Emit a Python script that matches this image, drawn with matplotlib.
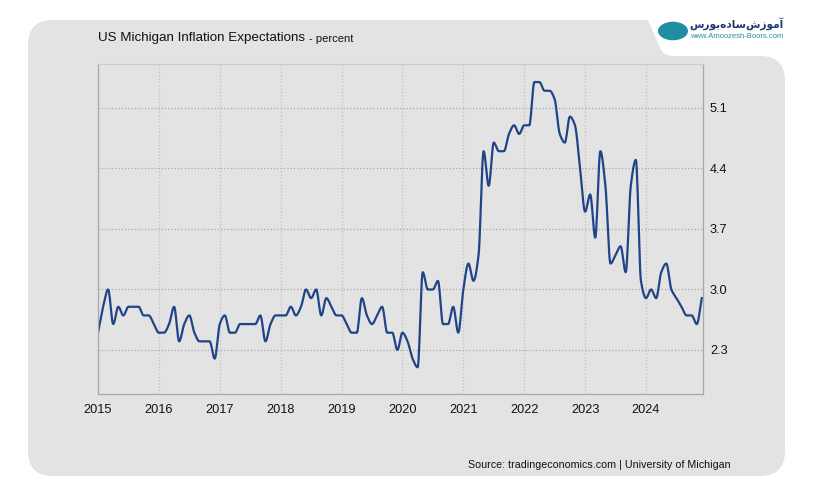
import numpy as np
import matplotlib.pyplot as plt
from matplotlib.path import Path
from matplotlib.patches import PathPatch, Circle

# monthly values, Jan 2015 .. Dec 2024
y2015 = [2.5, 2.8, 3.0, 2.6, 2.8, 2.7, 2.8, 2.8, 2.8, 2.7, 2.7, 2.6]
y2016 = [2.5, 2.5, 2.6, 2.8, 2.4, 2.6, 2.7, 2.5, 2.4, 2.4, 2.4, 2.2]
y2017 = [2.6, 2.7, 2.5, 2.5, 2.6, 2.6, 2.6, 2.6, 2.7, 2.4, 2.6, 2.7]
y2018 = [2.7, 2.7, 2.8, 2.7, 2.8, 3.0, 2.9, 3.0, 2.7, 2.9, 2.8, 2.7]
y2019 = [2.7, 2.6, 2.5, 2.5, 2.9, 2.7, 2.6, 2.7, 2.8, 2.5, 2.5, 2.3]
y2020 = [2.5, 2.4, 2.2, 2.1, 3.2, 3.0, 3.0, 3.1, 2.6, 2.6, 2.8, 2.5]
y2021 = [3.0, 3.3, 3.1, 3.4, 4.6, 4.2, 4.7, 4.6, 4.6, 4.8, 4.9, 4.8]
y2022 = [4.9, 4.9, 5.4, 5.4, 5.3, 5.3, 5.2, 4.8, 4.7, 5.0, 4.9, 4.4]
y2023 = [3.9, 4.1, 3.6, 4.6, 4.2, 3.3, 3.4, 3.5, 3.2, 4.2, 4.5, 3.1]
y2024 = [2.9, 3.0, 2.9, 3.2, 3.3, 3.0, 2.9, 2.8, 2.7, 2.7, 2.6, 2.9]

values = np.array(y2015 + y2016 + y2017 + y2018 + y2019 +
                  y2020 + y2021 + y2022 + y2023 + y2024)
years = list(range(2015, 2025))
yticks = [2.3, 3.0, 3.7, 4.4, 5.1]

W, H = 815, 504


def pchip(y, n=12):
    # monotone cubic through the monthly points (unit spacing)
    d = np.diff(y)
    m = np.zeros(len(y))
    m[0], m[-1] = d[0], d[-1]
    for k in range(1, len(y) - 1):
        if d[k - 1] * d[k] > 0:
            m[k] = 2.0 / (1.0 / d[k - 1] + 1.0 / d[k])
    t = np.linspace(0, 1, n, endpoint=False)
    h00 = 2 * t**3 - 3 * t**2 + 1
    h10 = t**3 - 2 * t**2 + t
    h01 = -2 * t**3 + 3 * t**2
    h11 = t**3 - t**2
    xs, ys = [], []
    for k in range(len(y) - 1):
        xs.append(k + t)
        ys.append(h00 * y[k] + h10 * m[k] + h01 * y[k + 1] + h11 * m[k + 1])
    xs.append([len(y) - 1])
    ys.append([y[-1]])
    return np.concatenate(xs), np.concatenate(ys)


def fx(x):
    return x / W


def fy(y):
    return 1 - y / H


fig = plt.figure(figsize=(W / 100, H / 100), dpi=100)
fig.patch.set_facecolor('white')

# gray panel with the notch for the logo
pts = [(53, 20), (648, 20), (661, 50), (665, 56), (675, 56), (760, 56),
       (785, 56), (785, 81), (785, 451), (785, 476), (760, 476), (53, 476),
       (28, 476), (28, 451), (28, 45), (28, 20), (53, 20)]
codes = [Path.MOVETO, Path.LINETO, Path.LINETO, Path.CURVE3, Path.CURVE3,
         Path.LINETO, Path.CURVE3, Path.CURVE3, Path.LINETO, Path.CURVE3,
         Path.CURVE3, Path.LINETO, Path.CURVE3, Path.CURVE3, Path.LINETO,
         Path.CURVE3, Path.CURVE3]
panel = Path([(fx(a), fy(b)) for a, b in pts], codes)
fig.patches.append(PathPatch(panel, transform=fig.transFigure,
                             facecolor='#e3e3e3', edgecolor='none', zorder=-5))

ax = fig.add_axes([fx(98), fy(394), fx(703) - fx(98), (394 - 64) / H])
ax.set_facecolor('none')
ax.set_zorder(2)

xs, ys = pchip(values)
ax.plot(2015 + xs / 12, ys, color='#1f4488', lw=1.6, solid_joinstyle='round')

ax.set_xlim(2015, 2015 + 605 / 60.89)
ax.set_ylim(2.3 - 44 * 0.7 / 60.5, 2.3 + 286 * 0.7 / 60.5)
ax.set_xticks(years)
ax.set_xticklabels([str(y) for y in years])
ax.set_yticks(yticks)
ax.set_yticklabels([f'{v:.1f}' for v in yticks])
ax.yaxis.tick_right()
ax.tick_params(axis='both', length=0, labelsize=9.2, colors='#111111',
               labelfontfamily='Liberation Sans')
ax.tick_params(axis='x', pad=7)
ax.tick_params(axis='y', pad=5)
ax.grid(axis='y', linestyle=':', color='#a8a8a8', lw=0.9)
ax.grid(axis='x', linestyle=':', color='#c0c0c0', lw=0.9)
for s in ['left', 'bottom', 'right']:
    ax.spines[s].set_color('#a8a8a8')
    ax.spines[s].set_linewidth(0.9)
ax.spines['top'].set_color('#cccccc')
ax.spines['top'].set_linewidth(0.8)

fig.text(fx(98), fy(38), 'US Michigan Inflation Expectations', fontsize=9.6,
         family='Liberation Sans', color='#111111', va='center')
fig.text(fx(309), fy(39), '- percent', fontsize=8.0,
         family='Liberation Sans', color='#111111', va='center')
fig.text(fx(731), fy(465), 'Source: tradingeconomics.com | University of Michigan',
         fontsize=7.7, family='Liberation Sans', color='#111111',
         ha='right', va='center')

# logo
fig.patches.append(Circle((fx(673), fy(31)), 15 / W, transform=fig.transFigure,
                          facecolor='#1f8ea3', edgecolor='none'))
logo_fa = '\ufeb1\ufead\ufeee\ufe91\ufee9\ufea9\ufe8e\ufeb3\ufeb5\ufeaf\ufeee\ufee3\ufe81'
fig.text(fx(783), fy(24), logo_fa, fontsize=7.6, family='DejaVu Sans',
         color='#1d3a6e', ha='right', va='center', fontweight='bold')
fig.text(fx(783), fy(37), 'www.Amoozesh-Boors.com', fontsize=5.5,
         family='Liberation Sans', color='#2a8ea0', ha='right', va='center')

fig.savefig('out.png', dpi=100, facecolor='white')
